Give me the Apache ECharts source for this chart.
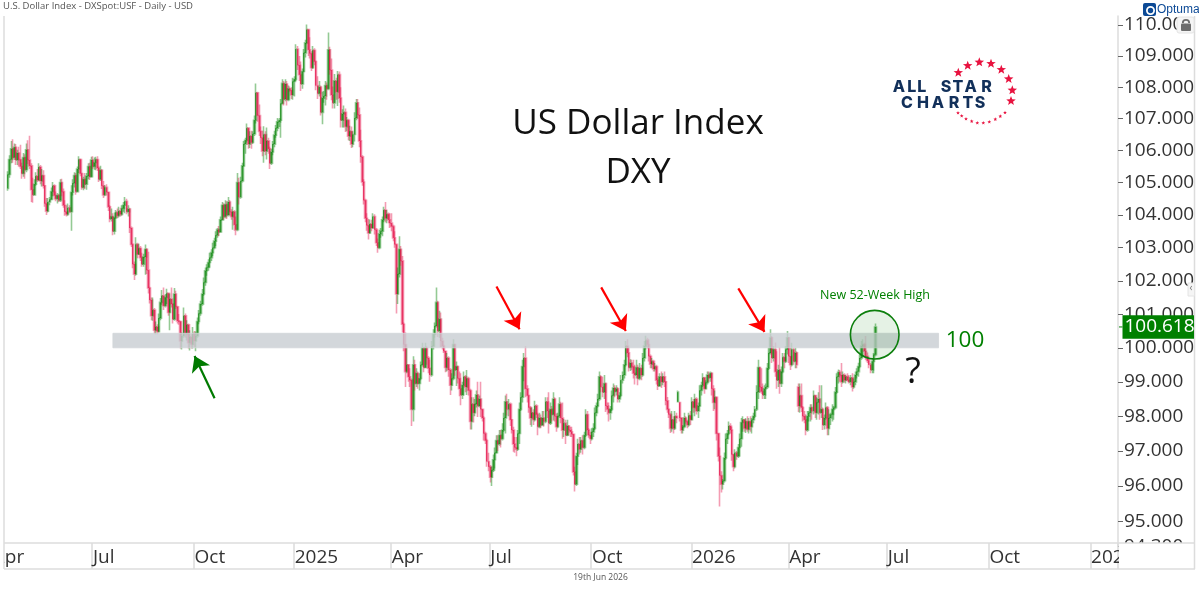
<!DOCTYPE html>
<html><head><meta charset="utf-8">
<style>html,body{margin:0;padding:0;background:#fff}#chart{width:1199px;height:590px}</style>
<script src="https://cdn.jsdelivr.net/npm/echarts@6/dist/echarts.min.js"></script>
</head><body><div id="chart"></div>
<script>
// Daily US Dollar Index bars; each row is [open, high, low, close].
const bars2024 = [
[104.82,105.35,104.75,105.25],[105.25,105.85,105.15,105.72],[105.72,106.3,105.6,106.05],[106.05,106.35,105.62,105.78],[105.78,106.22,105.7,106.1],[106.1,106.2,105.55,105.7],
[105.7,106.02,105.55,105.92],[105.92,106.12,105.5,105.72],[105.72,106.18,105.42,105.5],[105.5,105.62,105.12,105.28],[105.28,105.92,105.18,105.78],[105.78,105.88,105.12,105.4],
[105.4,106.22,105.32,106.02],[106.02,106.32,105.58,105.7],[105.7,106.46,105.42,105.52],[105.52,105.6,104.4,104.78],[104.78,105.15,104.38,104.62],[104.62,105.1,104.6,104.95],
[104.95,105.32,104.9,105.2],[105.2,105.42,105.02,105.08],[105.08,105.6,105.05,105.48],[105.48,105.55,104.95,105.05],[105.05,105.42,104.88,105.22],[105.22,105.38,104.82,104.9],
[104.9,104.92,104.25,104.35],[104.35,104.52,104.0,104.12],[104.12,104.52,104.08,104.4],[104.4,104.55,104.3,104.48],[104.48,104.85,104.45,104.72],[104.72,105.02,104.58,104.9],
[104.9,104.95,104.48,104.6],[104.6,104.72,104.42,104.5],[104.5,104.68,104.35,104.6],[104.6,104.65,104.4,104.45],[104.45,105.1,104.4,105.0],[105.0,105.12,104.58,104.72],
[104.72,104.82,104.22,104.3],[104.3,104.45,103.98,104.1],[104.1,104.3,103.95,104.02],[104.02,104.35,103.98,104.22],[104.22,104.3,104.05,104.1],[104.1,104.92,103.52,104.7],
[104.7,105.1,104.6,104.98],[104.98,105.32,104.85,105.22],[105.22,105.3,104.62,104.72],[104.72,105.5,104.7,105.42],[105.42,105.82,105.3,105.72],[105.72,105.75,105.2,105.28],
[105.28,105.3,104.78,104.85],[104.85,105.18,104.76,105.1],[105.1,105.3,104.8,104.95],[104.95,105.3,104.78,105.2],[105.2,105.6,105.1,105.5],[105.5,105.62,105.08,105.18],
[105.18,105.8,105.15,105.7],[105.7,105.82,105.42,105.5],[105.5,105.78,105.4,105.62],[105.62,105.8,105.38,105.72],[105.72,105.82,105.36,105.45],[105.45,105.5,105.02,105.1],
[105.1,105.52,105.05,105.38],[105.38,105.42,104.8,104.9],[104.9,105.05,104.52,104.62],[104.62,104.92,104.58,104.85],[104.85,104.95,104.6,104.7],[104.7,104.72,104.12,104.25],
[104.25,104.3,103.78,103.88],[103.88,104.2,103.8,103.95],[103.95,104.05,103.38,103.5],[103.5,104.08,103.4,103.92],[103.92,104.15,103.88,104.08],[104.08,104.2,103.9,103.98],
[103.98,104.25,103.92,104.12],[104.12,104.22,103.95,104.02],[104.02,104.3,103.98,104.2],[104.2,104.4,104.1,104.3],[104.3,104.55,104.05,104.42],[104.42,104.5,104.02,104.1],
[104.1,104.3,103.95,104.18],[104.18,104.22,103.45,103.6],[103.6,103.65,103.02,103.1],[103.1,103.12,102.38,102.5],[102.5,102.58,102.02,102.2],[102.2,103.32,102.15,103.1],
[103.1,103.15,102.68,102.8],[102.8,103.12,102.78,102.98],[102.98,103.05,102.6,102.7],[102.7,102.85,102.42,102.5],[102.5,102.82,102.42,102.72],[102.72,103.1,102.18,102.95],
[102.95,102.98,102.2,102.32],[102.32,102.88,101.62,101.78],[101.78,101.82,101.32,101.42],[101.42,101.5,100.82,100.95],[100.95,101.5,100.8,101.12],[101.12,101.18,100.42,100.52],
[100.52,100.78,100.4,100.62],[100.62,100.7,100.4,100.48],[100.48,101.02,100.45,100.88],[100.88,101.48,100.82,101.35],[101.35,101.72,101.28,101.55],[101.55,101.8,101.12,101.25],
[101.25,101.6,101.2,101.5],[101.5,101.76,101.3,101.62],[101.62,101.65,100.95,101.05],[101.05,101.62,100.52,101.45],[101.45,101.8,101.2,101.3],[101.3,101.32,100.72,100.85],
[100.85,101.78,100.8,101.6],[101.6,101.7,101.15,101.22],[101.22,101.25,100.72,100.8],[100.8,101.0,100.68,100.78],[100.78,100.8,99.98,100.2],[100.2,100.45,99.95,100.35],
[100.35,101.2,100.3,100.95],[100.95,101.02,100.3,100.42],[100.42,100.82,100.22,100.68],[100.68,100.72,99.98,100.15],[100.15,100.52,99.92,100.32],[100.32,100.4,99.98,100.1],
[100.1,100.62,99.98,100.42],[100.42,100.5,100.02,100.2],[100.2,100.48,99.9,100.35],[100.35,100.9,100.3,100.78],[100.78,101.12,100.7,101.02],[101.02,101.4,100.95,101.3],
[101.3,101.75,101.25,101.6],[101.6,102.1,101.55,101.95],[101.95,102.4,101.85,102.3],[102.3,102.5,102.15,102.4],[102.4,102.65,102.3,102.55],[102.55,102.85,102.4,102.7],
[102.7,102.95,102.6,102.85],[102.85,103.15,102.75,103.0],[103.0,103.3,102.95,103.2],[103.2,103.5,103.05,103.38],[103.38,103.6,103.3,103.55],[103.55,103.66,103.35,103.48],
[103.48,103.95,103.45,103.85],[103.85,104.4,103.82,104.3],[104.3,104.36,103.85,103.95],[103.95,104.45,103.9,104.32],[104.32,104.42,103.88,104.0],[104.0,104.55,103.95,104.4],
[104.4,104.46,104.0,104.1],[104.1,104.18,103.85,103.95],[103.95,104.25,103.55,104.1],[104.1,104.15,103.52,103.7],[103.7,103.95,103.38,103.55],[103.55,105.3,103.5,105.0],
[105.0,105.15,104.32,104.55],[104.55,105.18,104.5,105.05],[105.05,105.62,105.0,105.52],[105.52,106.3,105.5,106.2],[106.2,106.4,105.9,106.32],[106.32,106.85,106.25,106.7],
[106.7,106.72,106.05,106.2],[106.2,106.6,106.08,106.45],[106.45,106.62,106.05,106.25],[106.25,106.6,106.2,106.52],[106.52,107.1,106.45,106.95],[106.95,108.12,106.85,107.82],
[107.82,107.85,106.9,107.1],[107.1,107.45,106.45,106.6],[106.6,106.75,106.2,106.4],[106.4,106.62,105.82,105.98],[105.98,106.76,105.62,106.5],[106.5,106.6,105.85,105.98],
[105.98,106.72,105.72,106.3],[106.3,106.4,105.9,106.05],[106.05,106.12,105.42,105.6],[105.6,106.05,105.55,105.95],[105.95,106.3,105.85,106.2],[106.2,106.62,106.1,106.48],
[106.48,106.8,106.4,106.7],[106.7,107.02,106.6,106.9],[106.9,107.02,106.74,106.95],[106.95,107.62,106.4,107.48],[107.48,108.25,107.45,108.12],[108.12,108.2,107.42,107.62],
[107.62,108.25,107.55,108.1],[108.1,108.2,107.42,107.6],[107.6,108.05,107.55,107.95],[107.95,108.02,107.85,107.9],[107.9,108.0,107.62,107.75],[107.75,108.3,107.6,108.18]
];
const bars2025 = [
[108.18,108.35,107.7,108.25],[108.25,109.38,108.2,109.22],[109.22,109.32,108.55,108.7],[108.7,109.0,108.2,108.4],[108.4,108.82,107.88,108.1],[108.1,108.6,107.95,108.5],
[108.5,109.22,108.48,109.1],[109.1,109.52,108.95,109.42],[109.42,110.02,109.38,109.85],[109.85,109.88,109.0,109.2],[109.2,109.6,108.92,109.08],[109.08,109.15,108.52,108.62],
[108.62,109.32,108.58,109.18],[109.18,109.25,108.7,108.82],[108.82,108.85,107.9,108.05],[108.05,108.35,107.62,107.8],[107.8,108.2,107.7,108.0],[108.0,108.05,107.1,107.2],
[107.2,107.85,106.82,107.65],[107.65,107.88,107.5,107.72],[107.72,108.2,107.42,108.05],[108.05,108.15,107.6,107.95],[107.95,109.76,107.9,109.2],[109.2,109.3,108.4,108.55],
[108.55,108.92,107.58,107.75],[107.75,108.02,107.32,107.5],[107.5,108.42,107.32,108.2],[108.2,108.3,107.6,107.85],[107.85,108.52,107.4,108.4],[108.4,108.5,107.5,107.65],
[107.65,108.0,106.72,106.95],[106.95,107.3,106.72,107.15],[107.15,107.42,106.72,107.2],[107.2,107.32,106.58,106.75],[106.75,107.05,106.6,106.95],[106.95,107.0,106.32,106.45],
[106.45,106.78,106.3,106.6],[106.6,106.75,106.08,106.2],[106.2,106.6,106.1,106.5],[106.5,107.2,106.28,107.02],[107.02,107.62,106.95,107.5],[107.5,107.62,107.0,107.12],
[107.12,107.35,106.1,106.3],[106.3,106.65,105.62,105.8],[105.8,105.85,104.9,105.02],[105.02,105.1,104.32,104.45],[104.45,104.5,103.78,103.9],[103.9,104.05,103.52,103.68],
[103.68,103.88,103.25,103.45],[103.45,103.86,103.42,103.72],[103.72,103.85,103.5,103.6],[103.6,104.05,103.58,103.95],[103.95,104.02,103.4,103.55],[103.55,103.6,103.05,103.15],
[103.15,103.28,102.85,103.0],[103.0,103.55,102.95,103.42],[103.42,103.6,103.3,103.5],[103.5,103.95,103.35,103.85],[103.85,104.25,103.78,104.15],[104.15,104.4,103.78,103.9],
[103.9,104.15,103.75,104.02],[104.02,104.08,103.75,103.85],[103.85,104.05,103.6,103.75],[103.75,104.05,103.5,103.65],[103.65,103.7,103.2,103.3],[103.3,103.5,103.0,103.1],
[103.1,103.12,101.02,101.6],[101.6,102.4,101.3,102.2],[102.2,103.35,102.1,102.95],[102.95,103.05,102.45,102.6],[102.6,102.75,100.45,100.7],[100.7,100.75,99.9,100.1],
[100.1,100.45,98.85,99.3],[99.3,100.0,99.25,99.5],[99.5,99.52,99.0,99.15],[99.15,99.4,98.85,99.05],[99.05,99.1,97.72,98.2],[98.2,99.75,97.85,99.5],
[99.5,99.65,98.75,98.95],[98.95,99.4,98.85,99.25],[99.25,99.3,98.8,98.95],[98.95,99.25,98.75,99.1],[99.1,99.6,99.05,99.5],[99.5,100.15,99.45,100.0],
[100.0,100.02,99.28,99.42],[99.42,100.15,99.4,100.0],[100.0,100.05,99.5,99.7],[99.7,99.75,99.25,99.4],[99.4,99.65,99.0,99.2],[99.2,100.2,99.15,100.05],
[100.05,100.55,99.95,100.4],[100.4,100.75,100.3,100.65],[100.65,101.8,100.6,101.35],[101.35,101.4,100.32,100.5],[100.5,101.1,100.3,100.85],[100.85,101.05,100.02,100.2],
[100.2,100.3,99.95,100.05],[100.05,100.1,99.85,99.9],[99.9,99.92,99.28,99.42],[99.42,99.85,99.3,99.7],[99.7,99.75,99.15,99.35],[99.35,99.4,98.62,98.9],
[98.9,99.25,98.75,99.1],[99.1,100.25,99.05,100.1],[100.1,100.12,99.18,99.35],[99.35,99.6,98.88,99.45],[99.45,99.48,98.95,99.1],[99.1,99.3,98.58,98.8],
[98.8,99.25,98.32,98.62],[98.62,99.0,98.5,98.9],[98.9,99.3,98.6,99.15],[99.15,99.2,98.7,98.85],[98.85,99.35,98.62,99.1],[99.1,99.15,98.6,98.75],
[98.75,98.8,97.62,97.85],[97.85,98.55,97.62,98.35],[98.35,98.55,97.82,98.1],[98.1,98.5,98.0,98.35],[98.35,98.75,98.25,98.62],[98.62,99.0,97.98,98.3],
[98.3,98.6,98.25,98.5],[98.5,99.0,97.98,98.2],[98.2,98.22,97.85,97.95],[97.95,98.0,97.3,97.5],[97.5,97.55,97.2,97.3],[97.3,97.35,96.55,96.7],
[96.7,96.95,96.42,96.55],[96.55,96.6,96.1,96.25],[96.25,96.55,96.0,96.45],[96.45,96.9,96.4,96.75],[96.75,97.1,96.5,96.95],[96.95,97.45,96.92,97.3],
[97.3,97.45,97.0,97.2],[97.2,97.6,97.15,97.45],[97.45,97.6,97.1,97.35],[97.35,97.8,97.3,97.6],[97.6,98.1,97.55,97.95],[97.95,98.6,97.5,98.42],
[98.42,98.65,98.02,98.2],[98.2,98.5,98.0,98.35],[98.35,98.4,97.72,97.9],[97.9,97.92,97.5,97.6],[97.6,97.7,96.98,97.2],[97.2,97.4,96.95,97.1],
[97.1,97.4,96.85,97.05],[97.05,97.6,97.0,97.5],[97.5,98.4,97.2,98.2],[98.2,98.7,98.15,98.55],[98.55,99.65,98.4,99.45],[99.45,99.85,99.02,99.7],
[99.7,100.05,98.55,98.8],[98.8,98.9,98.4,98.6],[98.6,98.62,98.1,98.25],[98.25,98.3,97.75,97.95],[97.95,98.25,97.7,98.1],[98.1,98.2,97.75,97.9],
[97.9,98.45,97.85,98.3],[98.3,98.35,97.95,98.05],[98.05,98.1,97.45,97.7],[97.7,98.1,97.65,97.95],[97.95,98.05,97.65,97.75],[97.75,98.15,97.72,97.95],
[97.95,98.15,97.7,97.85],[97.85,98.55,97.8,98.42],[98.42,98.55,97.95,98.15],[98.15,98.7,97.5,97.8],[97.8,98.4,97.75,98.2],[98.2,98.3,97.85,98.05],
[98.05,98.7,97.88,98.5],[98.5,98.55,97.85,98.0],[98.0,98.08,97.55,97.7],[97.7,98.1,97.65,98.0],[98.0,98.55,97.95,98.35],[98.35,98.42,97.8,97.95],
[97.95,98.4,97.35,97.6],[97.6,97.92,97.4,97.8],[97.8,97.9,97.2,97.45],[97.45,97.9,97.42,97.72],[97.72,97.75,97.45,97.6],[97.6,97.7,97.4,97.55],
[97.55,97.7,97.4,97.48],[97.48,97.5,96.3,96.4],[96.4,96.55,95.85,96.05],[96.05,96.95,96.0,96.85],[96.85,97.35,96.6,97.2],[97.2,97.4,96.9,97.05],
[97.05,97.4,96.95,97.3],[97.3,97.45,96.9,97.1],[97.1,97.55,97.05,97.45],[97.45,98.2,97.4,98.05],[98.05,98.15,97.45,97.6],[97.6,97.65,97.38,97.45],
[97.45,97.55,97.2,97.35],[97.35,97.65,97.3,97.55],[97.55,97.8,97.4,97.65],[97.65,98.25,97.6,98.1],[98.1,98.4,98.0,98.3],[98.3,98.65,98.25,98.5],
[98.5,99.3,98.45,99.15],[99.15,99.2,98.7,98.85],[98.85,99.15,98.55,98.7],[98.7,99.2,98.5,98.95],[98.95,98.98,98.12,98.3],[98.3,98.4,98.05,98.2],
[98.2,98.4,97.85,98.1],[98.1,98.3,97.9,98.2],[98.2,98.75,98.15,98.6],[98.6,98.95,98.4,98.82],[98.82,98.9,98.55,98.72],[98.72,98.9,98.6,98.8],
[98.8,98.85,98.4,98.5],[98.5,98.7,98.4,98.6],[98.6,99.2,98.55,99.05],[99.05,99.3,98.95,99.2],[99.2,99.65,99.1,99.5],[99.5,100.2,99.45,100.05],
[100.05,100.25,99.72,99.85],[99.85,100.02,99.3,99.42],[99.42,99.66,99.32,99.55],[99.55,99.65,99.35,99.45],[99.45,99.65,99.1,99.25],[99.25,99.5,98.92,99.2],
[99.2,99.65,99.1,99.42],[99.42,99.5,98.9,99.1],[99.1,99.55,99.05,99.4],[99.4,99.5,99.05,99.2],[99.2,99.85,99.15,99.7],[99.7,100.2,99.6,100.05],
[100.05,100.36,99.95,100.22],[100.22,100.3,99.98,100.1],[100.1,100.25,99.6,99.75],[99.75,99.8,99.4,99.52],[99.52,99.7,99.4,99.6],[99.6,99.65,99.3,99.38],
[99.38,99.55,99.3,99.45],[99.45,99.5,98.92,99.05],[99.05,99.12,98.76,98.88],[98.88,99.25,98.85,99.15],[99.15,99.3,98.82,99.0],[99.0,99.25,98.9,99.15],
[99.15,99.3,98.85,99.0],[99.0,99.02,98.32,98.45],[98.45,98.56,98.1,98.2],[98.2,98.22,97.95,98.05],[98.05,98.1,97.52,97.65],[97.65,98.15,97.55,97.9],
[97.9,98.0,97.5,97.65],[97.65,98.15,97.6,98.0],[98.0,98.1,97.8,97.95],[98.42,98.75,98.4,98.7],[98.4,98.42,97.85,97.95],[97.95,97.98,97.5,97.6],
[97.6,97.75,97.5,97.7],[97.7,98.1,97.65,97.95],[97.95,98.0,97.78,97.85],[97.85,97.9,97.65,97.75],[97.75,98.1,97.7,98.02],[98.02,98.15,97.75,97.9]
];
const bars2026 = [
[97.9,98.55,97.88,98.42],[98.42,98.5,98.1,98.25],[98.25,98.65,98.0,98.5],[98.5,98.55,98.05,98.15],[98.15,98.4,97.95,98.3],[98.3,98.9,98.28,98.75],
[98.75,99.0,98.6,98.9],[98.9,99.25,98.85,99.12],[99.12,99.15,98.65,98.8],[98.8,99.05,98.78,98.98],[98.98,99.3,98.92,99.2],[99.2,99.3,99.0,99.12],
[99.12,99.3,99.0,99.25],[99.25,99.28,98.6,98.8],[98.8,98.9,98.15,98.4],[98.4,98.75,98.2,98.55],[98.55,98.58,97.3,97.5],[97.5,97.52,96.7,96.85],
[96.85,97.1,95.42,96.3],[96.3,96.42,95.82,96.05],[96.05,96.2,95.9,96.15],[96.15,96.96,96.1,96.8],[96.8,97.5,96.75,97.35],[97.35,97.6,97.2,97.5],
[97.5,97.85,97.45,97.72],[97.72,97.8,97.5,97.6],[97.6,97.7,96.72,96.9],[96.9,96.92,96.42,96.55],[96.55,97.05,96.5,96.95],[96.95,97.0,96.75,96.85],
[96.85,97.2,96.8,97.1],[97.1,97.5,96.85,97.35],[97.35,97.95,97.12,97.82],[97.82,98.0,97.55,97.9],[97.9,97.92,97.55,97.65],[97.65,97.95,97.52,97.85],
[97.85,98.0,97.55,97.62],[97.62,97.95,97.5,97.85],[97.85,98.0,97.55,97.7],[97.7,97.95,97.5,97.9],[97.9,98.1,97.8,98.0],[98.0,98.3,97.95,98.2],
[98.2,98.9,98.15,98.7],[98.7,99.65,98.5,99.42],[99.42,99.44,98.7,98.85],[98.85,99.4,98.65,98.72],[98.72,98.95,98.5,98.62],[98.62,98.9,98.5,98.8],
[98.8,98.95,98.5,98.85],[98.85,99.55,98.8,99.4],[99.4,100.0,99.35,99.85],[99.85,100.55,99.8,100.3],[100.3,100.35,99.55,99.7],[99.7,100.05,99.6,99.95],
[99.95,100.16,99.15,99.3],[99.3,99.9,98.8,99.05],[99.05,99.5,98.85,99.35],[99.35,100.02,98.65,98.95],[98.95,99.45,98.85,99.3],[99.3,99.85,99.25,99.72],
[99.72,99.85,99.4,99.6],[99.6,100.05,99.55,99.95],[99.95,100.5,99.8,100.3],[100.3,100.32,99.55,99.75],[99.75,100.0,99.35,99.5],[99.5,100.15,99.45,99.95],
[99.95,100.0,99.5,99.6],[99.6,100.0,99.4,99.85],[99.85,99.9,99.4,99.5],[98.85,98.95,98.12,98.3],[98.3,98.95,98.1,98.6],[98.6,98.95,98.12,98.25],
[98.25,98.3,97.85,98.0],[98.0,98.15,97.8,97.9],[97.9,98.06,97.45,97.6],[97.6,98.15,97.55,98.0],[98.0,98.15,97.85,98.1],[98.1,98.35,97.85,98.25],
[98.25,98.35,97.9,98.15],[98.15,98.75,98.05,98.6],[98.6,98.62,97.95,98.1],[98.1,98.55,97.9,98.4],[98.4,98.7,98.05,98.5],[98.5,98.9,97.9,98.1],
[98.1,98.9,97.95,98.2],[98.2,98.25,97.6,97.75],[97.75,98.05,97.62,97.95],[97.95,98.4,97.9,98.25],[98.25,98.3,97.45,97.65],[97.65,98.2,97.45,97.95],
[97.95,98.1,97.75,98.05],[98.05,98.35,97.85,98.2],[98.2,98.3,97.9,98.25],[98.25,98.85,98.2,98.7],[98.7,99.25,98.65,99.15],[99.15,99.36,98.95,99.28],
[99.28,99.35,99.0,99.2],[99.2,99.55,98.85,99.0],[99.0,99.3,98.95,99.2],[99.2,99.25,98.98,99.05],[99.05,99.2,98.95,99.15],[99.15,99.25,99.0,99.05],
[99.05,99.2,98.95,99.0],[99.0,99.2,98.9,99.12],[99.12,99.25,98.72,98.85],[98.85,99.1,98.8,99.0],[99.0,99.3,98.9,99.2],[99.2,99.4,99.1,99.3],
[99.3,99.56,99.15,99.45],[99.45,99.8,99.4,99.7],[99.7,100.2,99.65,100.05],[100.05,100.25,99.72,100.1],[100.1,100.15,99.75,99.9],[99.9,100.35,99.65,99.75],
[99.75,99.86,99.55,99.62],[99.62,99.7,99.4,99.5],[99.5,99.55,99.25,99.35],[99.35,99.7,99.25,99.6],[99.6,99.85,99.25,99.8],[99.8,100.72,99.75,100.618]
];

const lastClose = 100.618;
const priceTicks = [94.3,95,96,97,98,99,100,101,102,103,104,105,106,107,108,109,110];
const marketHolidays = ['2024-12-25','2025-01-01','2025-04-18','2025-12-25','2026-01-01','2026-04-03'];
const monthNames = {4:'Apr',7:'Jul',10:'Oct'};
const bandLow = 100, bandHigh = 100.43;
const bandStart = 78, bandEnd = 614;
const downArrows = [[327,101.83,342,100.55],[395,101.8,411,100.5],[484,101.77,501,100.47]];
const upArrow = [144,98.52,131,99.76];
const logoStars = [[958.3,72.7],[967.7,65.7],[979.3,62.3],[991,63.7],[1001.3,69.7],[1008.7,79],[1012.3,90.3],[1011,101]];
const logoDots = [[1005,112.7],[1000.3,116.3],[995.3,119.3],[989.3,122],[983.3,123],[977.3,123],[971.7,121.3],[966,119],[961.7,116],[958,113]];
const logoLine1 = [['A',899],['L',911.7],['L',921.7],['S',946],['T',958],['A',970.7],['R',986.5]];
const logoLine2 = [['C',907],['H',923],['A',938],['R',954],['T',968],['S',980]];

const GREEN = '#008000', RED = '#e5124a', GREY = '#dcdcdc';

// Weekday calendar from April 2024 with market holidays left out.
const tradingDays = [];
for (let d = new Date(Date.UTC(2024,3,1)); tradingDays.length < 731; d = new Date(d.getTime()+864e5)) {
  const wd = d.getUTCDay(), key = d.toISOString().slice(0,10);
  if (wd !== 0 && wd !== 6 && !marketHolidays.includes(key)) tradingDays.push(key);
}
const quarterStart = new Set();
let prevQuarter = null;
tradingDays.forEach((key, i) => {
  const m = +key.slice(5,7), q = key.slice(0,4)+Math.floor((m-1)/3);
  if (q !== prevQuarter && (m-1)%3 === 0) quarterStart.add(i);
  prevQuarter = q;
});

const rows = tradingDays.map(() => null);
function place(list, endDay) {
  const first = tradingDays.indexOf(endDay) - list.length + 1;
  list.forEach((r, i) => { rows[first+i] = r; });
}
place(bars2024,'2024-12-31'); place(bars2025,'2025-12-31'); place(bars2026,'2026-06-19');

const empty = [NaN,NaN,NaN,NaN];
const rangeData = rows.map(r => r ? [r[0],r[3],r[2],r[1]] : empty);
const bodyData = rows.map(r => r ? [r[0],r[3],Math.min(r[0],r[3]),Math.max(r[0],r[3])] : empty);

const arrowLine = (a, color) => [
  {coord:[tradingDays[a[0]],a[1]], lineStyle:{color,width:2.2,type:'solid'}, itemStyle:{color}},
  {coord:[tradingDays[a[2]],a[3]], lineStyle:{color,width:2.2,type:'solid'}, itemStyle:{color}}
];

const chart = echarts.init(document.getElementById('chart'));
chart.setOption({
  animation:false, backgroundColor:'#fff',
  grid:{left:-8,right:81,top:16,bottom:43.4,outerBoundsMode:'none'},
  xAxis:{type:'category',data:tradingDays,boundaryGap:true,offset:-3.6,
    axisLine:{show:false},
    axisTick:{show:true,length:26,interval:i=>quarterStart.has(i),lineStyle:{color:GREY,width:1.5}},
    axisLabel:{show:true,align:'left',margin:5,fontSize:19,color:'#333',fontFamily:'Open Sans',
      interval:i=>quarterStart.has(i),
      formatter:v=>{const m=+v.slice(5,7);return m===1?v.slice(0,4):monthNames[m];}},
    splitLine:{show:false}},
  yAxis:{type:'log',position:'right',min:94.3,max:110.293,
    axisLine:{show:true,lineStyle:{color:GREY,width:1.5}},
    axisTick:{show:true,length:5,customValues:priceTicks,lineStyle:{color:'#666'}},
    axisLabel:{margin:6,fontSize:19,color:'#333',fontFamily:'Open Sans',customValues:priceTicks,formatter:v=>v.toFixed(3)},
    splitLine:{show:false}},
  series:[
    {type:'candlestick',name:'Range',data:rangeData,barWidth:2,large:false,silent:true,clip:true,
     itemStyle:{color:'rgba(0,128,0,.42)',color0:'rgba(229,18,74,.42)',borderColor:'rgba(0,128,0,.42)',borderColor0:'rgba(229,18,74,.42)',borderWidth:1.6},
     markArea:{silent:true,z:5,itemStyle:{color:'rgba(200,205,210,.8)',borderColor:'rgba(210,214,218,.8)',borderWidth:1},
       data:[[{xAxis:tradingDays[bandStart],yAxis:bandLow},{xAxis:tradingDays[bandEnd],yAxis:bandHigh}]]},
     markLine:{silent:true,z:6,symbol:['none','arrow'],symbolSize:15,label:{show:false},
       data:[...downArrows.map(a=>arrowLine(a,'#ff0000')),arrowLine(upArrow,'#007a00')]}},
    {type:'candlestick',name:'Open-close',data:bodyData,barWidth:1,large:false,silent:true,clip:true,
     itemStyle:{color:'rgba(0,128,0,.7)',color0:'rgba(229,18,74,.85)',borderColor:'rgba(0,128,0,.7)',borderColor0:'rgba(229,18,74,.85)',borderWidth:0.8}}
  ]
});

// Annotation layer: titles, price flag, logo and chart frame.
function starPoints(cx, cy, r) {
  const pts = [];
  for (let i = 0; i < 10; i++) {
    const a = -Math.PI/2 + i*Math.PI/5, rad = i%2 ? r*0.42 : r;
    pts.push([cx+rad*Math.cos(a), cy+rad*Math.sin(a)]);
  }
  return pts;
}
const txt = (text,x,y,fontSize,fill,extra) => ({type:'text',z:120,silent:true,
  style:Object.assign({text,x,y,fontSize,fill,fontFamily:'Open Sans',align:'center',verticalAlign:'middle'},extra||{})});
const line = (x1,y1,x2,y2,stroke,w) => ({type:'line',z:110,silent:true,shape:{x1,y1,x2,y2},style:{stroke,lineWidth:w||1.5}});
const logoLetters = (list,y) => list.map(p=>txt(p[0],p[1],y,16,'#12305a',{fontFamily:'Inter',fontWeight:800}));
const priceY = chart.convertToPixel({yAxisIndex:0},lastClose);
chart.setOption({graphic:[
  {type:'rect',z:100,silent:true,shape:{x:0,y:0,width:4,height:590},style:{fill:'#fff'}},
  {type:'rect',z:100,silent:true,shape:{x:1119,y:543,width:80,height:47},style:{fill:'#fff'}},
  line(4,16,4,569,GREY), line(4,543,1195,543,GREY), line(4,569,1195,569,GREY), line(1194.5,16,1194.5,569,GREY),
  txt('U.S. Dollar Index - DXSpot:USF - Daily - USD',3,6.5,9.5,'#555',{align:'left'}),
  txt('19th Jun 2026',600.5,577.5,8.5,'#555'),
  txt('US Dollar Index',638,124,35,'#111'),
  txt('DXY',638,173,35,'#111'),
  txt('New 52-Week High',875,295.5,12.5,GREEN),
  txt('100',965,341,22.5,GREEN),
  txt('?',913,373,36,'#111'),
  {type:'circle',z:115,silent:true,shape:{cx:874.7,cy:334.7,r:24.3},style:{fill:'rgba(0,128,0,.1)',stroke:'#0c7f0c',lineWidth:1.6}},
  {type:'rect',z:115,silent:true,shape:{x:1122.5,y:priceY-11.8,width:71.5,height:23.6},style:{fill:GREEN}},
  txt(lastClose.toFixed(3),1159.5,priceY,19,'#fff'),
  line(1119,priceY,1122.5,priceY,GREEN,1),
  {type:'rect',z:115,silent:true,shape:{x:1177,y:17,width:17,height:16,r:2},style:{fill:'#f5f5f5',stroke:'#e4e4e4'}},
  {type:'arc',z:116,silent:true,shape:{cx:1186,cy:23,r:3.2,startAngle:Math.PI,endAngle:0},style:{stroke:'#6e6e6e',lineWidth:1.8,fill:null}},
  {type:'rect',z:116,silent:true,shape:{x:1181,y:23.5,width:10,height:7.5,r:1},style:{fill:'#6e6e6e'}},
  {type:'rect',z:115,silent:true,shape:{x:1188,y:283,width:6.5,height:13},style:{fill:'#f5f5f5',stroke:'#e4e4e4'}},
  txt('‹',1191,288.5,10,'#777'),
  {type:'rect',z:115,silent:true,shape:{x:1143,y:3,width:13,height:13,r:2},style:{fill:'#0d4a96'}},
  {type:'circle',z:116,silent:true,shape:{cx:1150.5,cy:10.5,r:3.6},style:{fill:'none',stroke:'#fff',lineWidth:1.8}},
  txt('Optuma',1157,10,12,'#0d4a96',{align:'left',fontFamily:'Liberation Sans'}),
  ...logoStars.map(p=>({type:'polygon',z:115,silent:true,shape:{points:starPoints(p[0],p[1],5)},style:{fill:'#e8123f'}})),
  ...logoDots.map(p=>({type:'polygon',z:115,silent:true,shape:{points:starPoints(p[0],p[1],2)},style:{fill:'#e8123f'}})),
  ...logoLetters(logoLine1,87),
  ...logoLetters(logoLine2,103.5)
]});
</script>
</body></html>
